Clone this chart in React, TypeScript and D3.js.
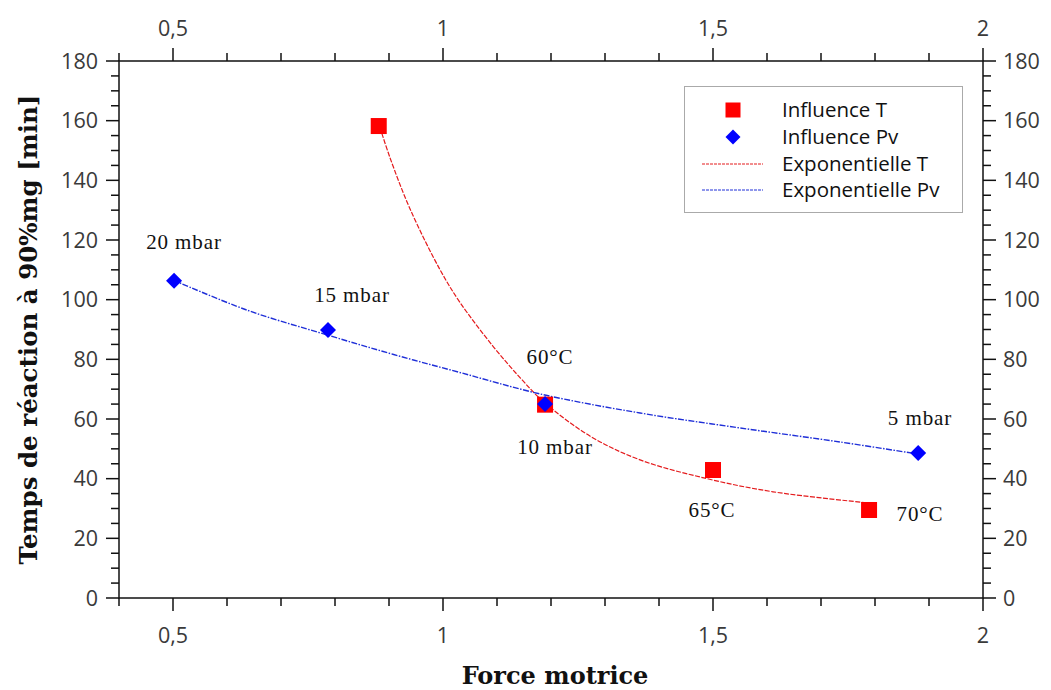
import React from "react";
import * as d3 from "d3";

// Measured points
const tempX = [0.881, 1.189, 1.5, 1.789];
const tempY = [158.2, 64.8, 42.9, 29.5];
const tempLabels = ["", "60°C", "65°C", "70°C"];

const pvX = [0.502, 0.787, 1.189, 1.88];
const pvY = [106.3, 89.8, 65.0, 48.6];
const pvLabels = ["20 mbar", "15 mbar", "10 mbar", "5 mbar"];

// Exponential trend curves
const expTX = [0.883, 0.902, 0.939, 0.994, 1.031, 1.093, 1.143, 1.185, 1.272, 1.365, 1.489, 1.611, 1.791];
const expTY = [157.9, 147.5, 130.4, 110.2, 99.2, 84.3, 73.8, 66.0, 54.3, 46.3, 40.0, 35.6, 31.8];
const expPvX = [0.5, 0.637, 0.785, 0.907, 1.031, 1.18, 1.365, 1.55, 1.735, 1.878];
const expPvY = [106.6, 96.5, 88.2, 81.7, 75.6, 68.4, 62.0, 57.0, 52.3, 48.3];

const xMajor = [0.5, 1, 1.5, 2];
const xMinor = d3.range(4, 21).map((v) => v / 10);
const yMajor = d3.range(0, 181, 20);
const yMinor = d3.range(0, 181, 5);

const legendItems = ["Influence T", "Influence Pv", "Exponentielle T", "Exponentielle Pv"];

const fmtX = (v: number) => String(v).replace(".", ",");

export default function App() {
  const L = 119, R = 983, T = 61, B = 598;
  const x = d3.scaleLinear().domain([0.4, 2]).range([L, R]);
  const y = d3.scaleLinear().domain([0, 180]).range([B, T]);
  const line = d3
    .line<[number, number]>()
    .x((d) => x(d[0]))
    .y((d) => y(d[1]))
    .curve(d3.curveCatmullRom.alpha(0.5));
  const tPath = line(expTX.map((v, i) => [v, expTY[i]] as [number, number])) || "";
  const pPath = line(expPvX.map((v, i) => [v, expPvY[i]] as [number, number])) || "";

  const tickFont = { fontFamily: "'Open Sans', sans-serif", fontSize: 21.5, fill: "#3a3a3a" };
  const labFont = { fontFamily: "'Liberation Serif', serif", fontSize: 21, fill: "#111", letterSpacing: 0.9 };
  const MJ = 13, MN = 8;
  const sq = 16, dm = 8;

  const tempLabelPos = [
    [0, 0],
    [550, 357],
    [712, 510],
    [920, 514],
  ];
  const pvLabelPos = [
    [184, 242],
    [352, 295],
    [555, 447],
    [920, 418],
  ];

  return (
    <svg width={1051} height={690} style={{ position: "absolute", left: 0, top: 0, background: "#fff" }}>
      <rect x={0} y={0} width={1051} height={690} fill="#fff" />
      {/* frame */}
      <rect x={L} y={T} width={R - L} height={B - T} fill="none" stroke="#111" strokeWidth={1.5} />
      {/* x ticks */}
      {xMinor.map((v) => {
        const isMaj = xMajor.some((m) => Math.abs(m - v) < 1e-9);
        const len = isMaj ? MJ : MN;
        return (
          <g key={"xt" + v}>
            <line x1={x(v)} x2={x(v)} y1={B} y2={B + len} stroke="#111" strokeWidth={1.5} />
            <line x1={x(v)} x2={x(v)} y1={T} y2={T - len} stroke="#111" strokeWidth={1.5} />
          </g>
        );
      })}
      {xMajor.map((v) => (
        <g key={"xl" + v}>
          <text x={x(v)} y={643} textAnchor="middle" {...tickFont}>
            {fmtX(v)}
          </text>
          <text x={x(v)} y={36} textAnchor="middle" {...tickFont}>
            {fmtX(v)}
          </text>
        </g>
      ))}
      {/* y ticks */}
      {yMinor.map((v) => {
        const isMaj = v % 20 === 0;
        const len = isMaj ? MJ : MN;
        return (
          <g key={"yt" + v}>
            <line x1={L} x2={L - len} y1={y(v)} y2={y(v)} stroke="#111" strokeWidth={1.5} />
            <line x1={R} x2={R + len} y1={y(v)} y2={y(v)} stroke="#111" strokeWidth={1.5} />
          </g>
        );
      })}
      {yMajor.map((v) => (
        <g key={"yl" + v}>
          <text x={98} y={y(v)} dy="0.36em" textAnchor="end" {...tickFont}>
            {v}
          </text>
          <text x={1003} y={y(v)} dy="0.36em" textAnchor="start" {...tickFont}>
            {v}
          </text>
        </g>
      ))}
      {/* axis titles */}
      <text x={555} y={684} textAnchor="middle" fontFamily="'DejaVu Serif', serif" fontWeight="bold" fontSize={24} fill="#111">
        Force motrice
      </text>
      <text
        transform={`translate(37,${(T + B) / 2}) rotate(-90)`}
        textAnchor="middle"
        fontFamily="'DejaVu Serif', serif"
        fontWeight="bold"
        fontSize={24.5}
        fill="#111"
      >
        Temps de réaction à 90%mg [min]
      </text>
      {/* curves */}
      <path d={tPath} fill="none" stroke="#e41a1c" strokeWidth={1.2} strokeDasharray="5,1.5" />
      <path d={pPath} fill="none" stroke="#1f2fd8" strokeWidth={1.4} strokeDasharray="6,1.5,1.5,1.5" />
      {/* markers */}
      {tempX.map((v, i) => (
        <rect key={"sq" + i} x={x(v) - sq / 2} y={y(tempY[i]) - sq / 2} width={sq} height={sq} fill="#ff0000" />
      ))}
      {pvX.map((v, i) => {
        const cx = x(v), cy = y(pvY[i]);
        return (
          <path key={"dm" + i} d={`M${cx},${cy - dm}L${cx + dm},${cy}L${cx},${cy + dm}L${cx - dm},${cy}Z`} fill="#0000ff" />
        );
      })}
      {/* annotations */}
      {tempLabels.map((s, i) =>
        s ? (
          <text key={"tl" + i} x={tempLabelPos[i][0]} y={tempLabelPos[i][1]} dy="0.35em" textAnchor="middle" {...labFont}>
            {s}
          </text>
        ) : null
      )}
      {pvLabels.map((s, i) => (
        <text key={"pl" + i} x={pvLabelPos[i][0]} y={pvLabelPos[i][1]} dy="0.35em" textAnchor="middle" {...labFont}>
          {s}
        </text>
      ))}
      {/* legend */}
      <rect x={684.5} y={86.5} width={278} height={126} fill="#fff" stroke="#aaa" strokeWidth={1} />
      <rect x={733 - 7.5} y={110 - 7.5} width={15} height={15} fill="#ff0000" />
      <path d={`M733,${137 - 7.5}L740.5,137L733,${137 + 7.5}L725.5,137Z`} fill="#0000ff" />
      <line x1={702} x2={763} y1={164} y2={164} stroke="#e41a1c" strokeWidth={1} strokeDasharray="3,1" />
      <line x1={702} x2={763} y1={190} y2={190} stroke="#1f2fd8" strokeWidth={1} strokeDasharray="3,1" />
      {legendItems.map((s, i) => (
        <text
          key={"lg" + i}
          x={782}
          y={[110, 137, 164, 190][i]}
          dy="0.35em"
          fontFamily="'Open Sans', sans-serif"
          fontSize={20.5}
          fill="#111"
        >
          {s}
        </text>
      ))}
    </svg>
  );
}
